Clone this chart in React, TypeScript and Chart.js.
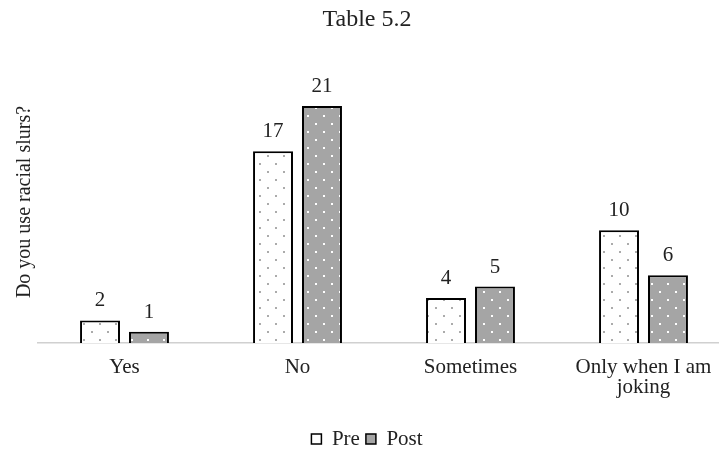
import React, { useEffect, useRef } from "react";
import { Chart, registerables } from "chart.js";

Chart.register(...registerables);

// Survey categories and answer counts before and after the session
const categories: (string | string[])[] = ["Yes", "No", "Sometimes", ["Only when I am", "joking"]];
const preValues = [2, 17, 4, 10];
const postValues = [1, 21, 5, 6];
const seriesNames = ["Pre", "Post"];
const chartTitle = "Table 5.2";
const yAxisTitle = "Do you use racial slurs?";
const yMax = 25;

const FONT = "'Liberation Serif', 'Times New Roman', serif";
const TEXT = "#222222";
const PRE_FILL = "#ffffff";
const POST_FILL = "#a5a5a5";

// Small staggered dot texture used as the bar fill
function dotPattern(bg: string, dot: string): CanvasPattern | string {
  const c = document.createElement("canvas");
  c.width = 16;
  c.height = 16;
  const g = c.getContext("2d");
  if (!g) return bg;
  g.fillStyle = bg;
  g.fillRect(0, 0, 16, 16);
  g.fillStyle = dot;
  g.fillRect(3, 3, 2, 2);
  g.fillRect(11, 11, 2, 2);
  return g.createPattern(c, "repeat") || bg;
}

// Writes each bar's value just above it
const valueLabels = {
  id: "valueLabels",
  afterDatasetsDraw(chart: any) {
    const ctx = chart.ctx;
    ctx.save();
    ctx.font = `21px ${FONT}`;
    ctx.fillStyle = TEXT;
    ctx.textAlign = "center";
    ctx.textBaseline = "alphabetic";
    chart.data.datasets.forEach((ds: any, i: number) => {
      const meta = chart.getDatasetMeta(i);
      meta.data.forEach((el: any, j: number) => {
        ctx.fillText(String(ds.data[j]), el.x, el.y - 14);
      });
    });
    ctx.restore();
  },
};

export default function App() {
  const canvasRef = useRef<HTMLCanvasElement | null>(null);

  useEffect(() => {
    if (!canvasRef.current) return;
    const solidFills = [PRE_FILL, POST_FILL];
    const chart = new Chart(canvasRef.current, {
      type: "bar",
      data: {
        labels: categories,
        datasets: [
          {
            label: seriesNames[0],
            data: preValues,
            backgroundColor: dotPattern(PRE_FILL, "#ababab"),
            borderColor: "#000000",
            borderWidth: 2,
            barPercentage: 0.816,
            categoryPercentage: 0.566,
          },
          {
            label: seriesNames[1],
            data: postValues,
            backgroundColor: dotPattern(POST_FILL, "#ffffff"),
            borderColor: "#000000",
            borderWidth: 2,
            barPercentage: 0.816,
            categoryPercentage: 0.566,
          },
        ],
      },
      options: {
        animation: false,
        responsive: true,
        maintainAspectRatio: false,
        layout: { padding: { left: 4, right: 10, top: 0, bottom: -8.5 } },
        plugins: {
          title: {
            display: true,
            text: chartTitle,
            color: TEXT,
            font: { family: FONT, size: 24, weight: "normal", lineHeight: 1.2 },
            padding: { top: 5.5, bottom: 26.7 },
          },
          legend: {
            position: "bottom",
            title: {
              display: true,
              text: "",
              font: { family: FONT, size: 10.5, lineHeight: 1 },
              padding: 0,
            },
            labels: {
              boxWidth: 10,
              boxHeight: 10,
              padding: 6,
              color: TEXT,
              font: { family: FONT, size: 21 },
              generateLabels(chart: any) {
                const items = Chart.defaults.plugins.legend.labels.generateLabels(chart);
                return items.map((it: any, i: number) => ({
                  ...it,
                  fillStyle: solidFills[i],
                  strokeStyle: "#000000",
                  lineWidth: 1.5,
                }));
              },
            },
          },
          tooltip: { enabled: false },
        },
        scales: {
          x: {
            grid: { display: false, drawTicks: false },
            border: { display: true, color: "#d0d0d0", width: 1.5 },
            ticks: {
              color: TEXT,
              font: { family: FONT, size: 21, lineHeight: "20px" },
              padding: 14.5,
              maxRotation: 0,
              autoSkip: false,
            },
          },
          y: {
            min: 0,
            max: yMax,
            grid: { display: false, drawTicks: false },
            border: { display: false },
            ticks: { display: false },
            title: {
              display: true,
              text: yAxisTitle,
              color: TEXT,
              font: { family: FONT, size: 20, lineHeight: 1.2 },
              padding: { top: 8.5, bottom: 1.5 },
            },
          },
        },
      },
      plugins: [valueLabels],
    });
    return () => chart.destroy();
  }, []);

  return (
    <div
      style={{
        position: "fixed",
        left: 0,
        top: 0,
        width: 719,
        height: 451,
        overflow: "hidden",
        background: "#ffffff",
      }}
    >
      <div style={{ position: "relative", width: 740, height: 451 }}>
        <canvas ref={canvasRef} />
      </div>
    </div>
  );
}
